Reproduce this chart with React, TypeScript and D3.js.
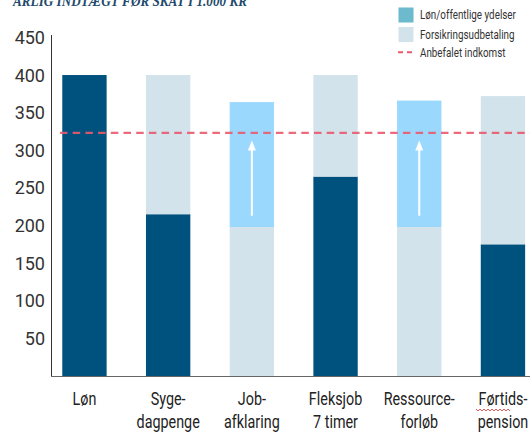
import React from "react";
import * as d3 from "d3";

const categories = ["Løn", "Sygedagpenge", "Jobafklaring", "Fleksjob 7 timer", "Ressourceforløb", "Førtidspension"];
const categoryLines = [["Løn"], ["Syge-", "dagpenge"], ["Job-", "afklaring"], ["Fleksjob", "7 timer"], ["Ressource-", "forløb"], ["Førtids-", "pension"]];
const lonValues = [400, 215, 0, 265, 0, 175];
const forsikringValues = [0, 185, 198, 135, 198, 197];
const extraValues = [0, 0, 166, 0, 168, 0];
const arrowFrom = [0, 0, 213, 0, 213, 0];
const arrowTo = [0, 0, 313, 0, 313, 0];
const recommended = 323;
const yTicks = [50, 100, 150, 200, 250, 300, 350, 400, 450];
const legendItems = ["Løn/offentlige ydelser", "Forsikringsudbetaling", "Anbefalet indkomst"];
const title = "ÅRLIG INDTÆGT FØR SKAT I 1.000 KR";

const W = 530, H = 432;
const DARK = "#00527e";
const LIGHT = "#d3e3ec";
const SKY = "#9bd8fe";
const TEAL = "#6bbacd";
const RED = "#ea5a6e";
const FONT = "Roboto, sans-serif";

export default function App() {
  const x = d3.scaleBand<string>().domain(categories).range([42.6, 544.8]).paddingInner(0.47).paddingOuter(0.235);
  const y = d3.scaleLinear().domain([0, 450]).range([376, 37.4]);
  const bw = x.bandwidth();

  return (
    <svg width={W} height={H} style={{ position: "absolute", left: 0, top: 0, background: "#fff" }}>
      <text x={13} y={6} fontFamily="'Liberation Serif', serif" fontStyle="italic" fontWeight="bold" fontSize={14} fill="#1e4a6b" textLength={234} lengthAdjust="spacingAndGlyphs">{title}</text>

      {categories.map((c, i) => {
        const x0 = x(c)!;
        const b1 = lonValues[i];
        const b2 = b1 + forsikringValues[i];
        const b3 = b2 + extraValues[i];
        return (
          <g key={c}>
            {b1 > 0 && <rect x={x0} y={y(b1)} width={bw} height={y(0) - y(b1)} fill={DARK} />}
            {forsikringValues[i] > 0 && <rect x={x0} y={y(b2)} width={bw} height={y(b1) - y(b2)} fill={LIGHT} />}
            {extraValues[i] > 0 && <rect x={x0} y={y(b3)} width={bw} height={y(b2) - y(b3)} fill={SKY} />}
            {arrowTo[i] > 0 && (
              <g>
                <line x1={x0 + bw / 2} x2={x0 + bw / 2} y1={y(arrowFrom[i])} y2={y(arrowTo[i]) + 8} stroke="#fff" strokeWidth={2} />
                <path d={`M${x0 + bw / 2},${y(arrowTo[i])} L${x0 + bw / 2 + 4},${y(arrowTo[i]) + 10} L${x0 + bw / 2 - 4},${y(arrowTo[i]) + 10} Z`} fill="#fff" />
              </g>
            )}
          </g>
        );
      })}

      <line x1={60} x2={W} y1={y(recommended)} y2={y(recommended)} stroke={RED} strokeWidth={2.2} strokeDasharray="7.5 5.2" opacity={0.9} />

      <line x1={51.5} x2={51.5} y1={35} y2={376.5} stroke="#333" strokeWidth={1} />
      <line x1={51} x2={W} y1={376.5} y2={376.5} stroke="#666" strokeWidth={1.2} />

      {yTicks.map((t) => (
        <text key={t} x={45} y={y(t)} dy="0.36em" textAnchor="end" fontFamily={FONT} fontSize={18} fill="#333">{t}</text>
      ))}

      {categories.map((c, i) => (
        <g key={c} transform={`translate(${x(c)! + bw / 2},0) scale(0.82,1)`}>
          <text textAnchor="middle" fontFamily={FONT} fontSize={17.5} fill="#222">
            {categoryLines[i].map((l, j) => (
              <tspan key={j} x={0} y={405 + j * 23}>{l}</tspan>
            ))}
          </text>
        </g>
      ))}

      <path d={d3.range(0, 18).map((k) => `${k === 0 ? "M" : "L"}${476 + k * 2},${k % 2 === 0 ? 409 : 411}`).join(" ")} fill="none" stroke="#e03030" strokeWidth={0.8} />

      <rect x={398.5} y={7.5} width={15} height={15} fill={TEAL} />
      <rect x={398.5} y={27} width={15} height={15} fill={LIGHT} />
      <line x1={398} x2={413} y1={52.3} y2={52.3} stroke={RED} strokeWidth={2} strokeDasharray="5 4" />
      {legendItems.map((l, i) => (
        <g key={l} transform={`translate(420,0) scale(0.82,1)`}>
          <text x={0} y={[15, 34.5, 52.5][i]} dy="0.35em" fontFamily={FONT} fontSize={12} fill="#333">{l}</text>
        </g>
      ))}
    </svg>
  );
}
